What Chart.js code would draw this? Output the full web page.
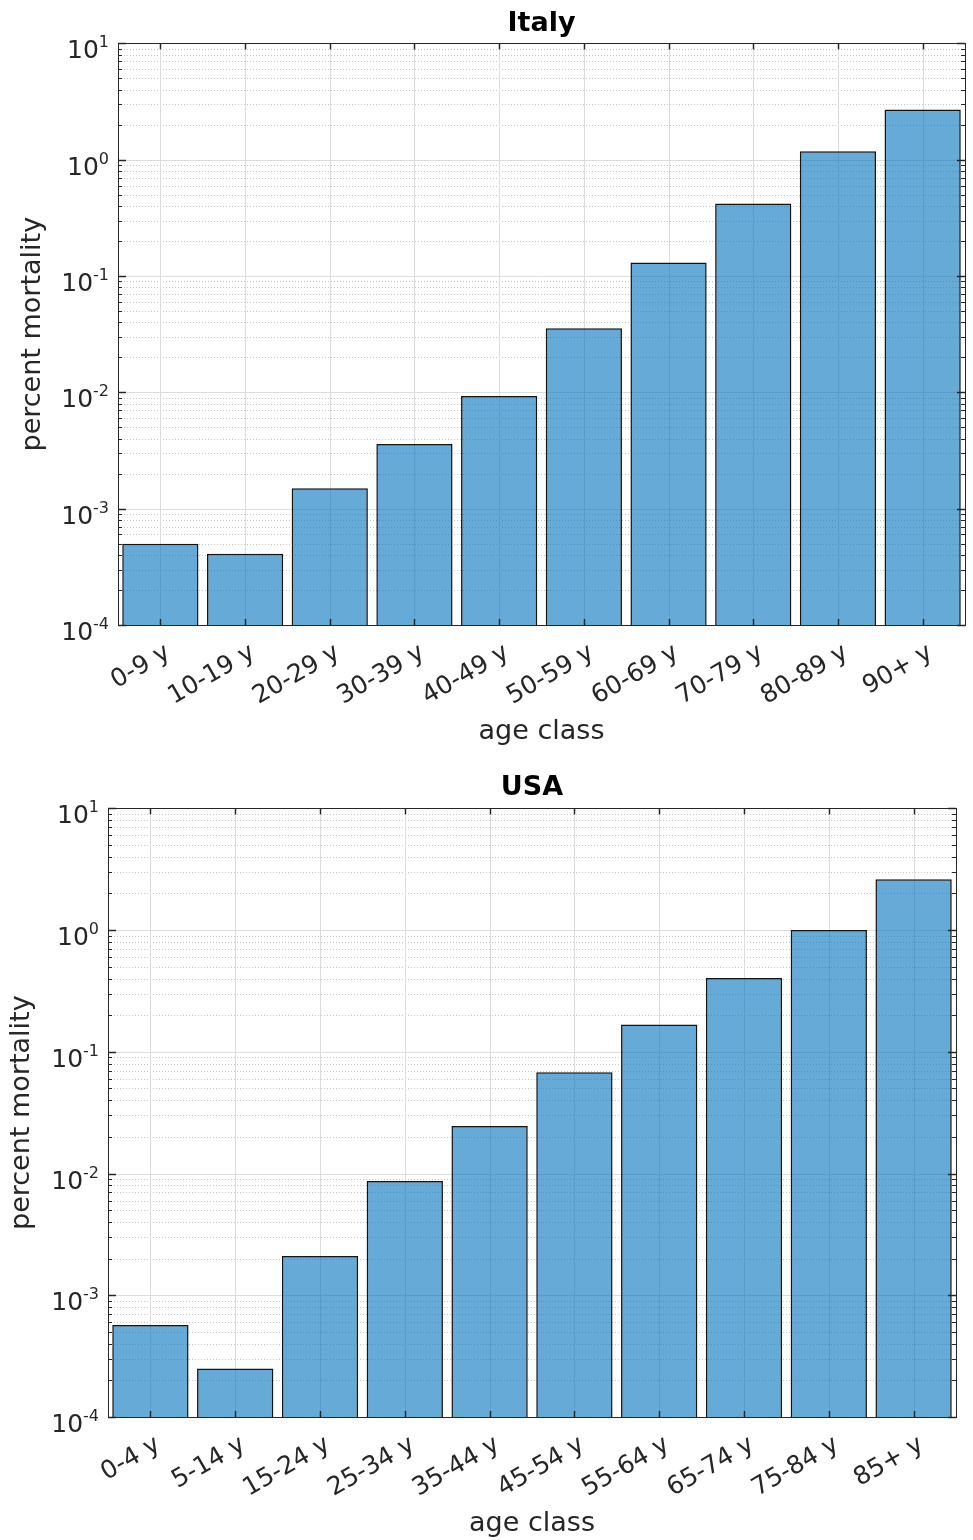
<!DOCTYPE html>
<html>
<head>
<meta charset="utf-8">
<script src="https://cdn.jsdelivr.net/npm/chart.js@4/dist/chart.umd.min.js"></script>
<style>
  body{margin:0;background:#fff;width:973px;height:1540px;overflow:hidden}
  canvas{position:absolute;left:0;display:block}
</style>
</head>
<body>
<canvas id="italyChart" width="973" height="760" style="top:0"></canvas>
<canvas id="usaChart" width="973" height="780" style="top:760px"></canvas>
<script>
const italyLabels = ['0-9 y','10-19 y','20-29 y','30-39 y','40-49 y','50-59 y','60-69 y','70-79 y','80-89 y','90+ y']
const italyValues = [0.00050, 0.00041, 0.0015, 0.0036, 0.0093, 0.0355, 0.131, 0.42, 1.18, 2.70]

const usaLabels = ['0-4 y','5-14 y','15-24 y','25-34 y','35-44 y','45-54 y','55-64 y','65-74 y','75-84 y','85+ y']
const usaValues = [0.00057, 0.00025, 0.0021, 0.0087, 0.0246, 0.068, 0.168, 0.405, 1.0, 2.62]

const decadeTicks = [1e-4, 1e-3, 1e-2, 1e-1, 1, 10]

const textColor = '#262626'
const fontFamily = '"DejaVu Sans", sans-serif'

// matlab-ish grid, box, inward ticks and 10^n labels
const matlabAxes = {
    id: 'matlabAxes',
    beforeDatasetsDraw(chart){
        const {ctx, chartArea: a, scales: {x, y}} = chart
        ctx.save()
        ctx.lineWidth = 1
        ctx.strokeStyle = '#c4c4c4'
        ctx.setLineDash([1, 2])
        for(let e = -4; e < 1; e++){
            for(let m = 2; m < 10; m++){
                const py = Math.round(y.getPixelForValue(m * Math.pow(10, e))) + 0.5
                ctx.beginPath(); ctx.moveTo(a.left, py); ctx.lineTo(a.right, py); ctx.stroke()
            }
        }
        ctx.setLineDash([])
        ctx.strokeStyle = '#dcdcdc'
        decadeTicks.forEach(v => {
            const py = Math.round(y.getPixelForValue(v)) + 0.5
            ctx.beginPath(); ctx.moveTo(a.left, py); ctx.lineTo(a.right, py); ctx.stroke()
        })
        chart.data.labels.forEach((l, i) => {
            const px = Math.round(x.getPixelForValue(i)) + 0.5
            ctx.beginPath(); ctx.moveTo(px, a.top); ctx.lineTo(px, a.bottom); ctx.stroke()
        })
        ctx.restore()
    },
    afterDatasetsDraw(chart){
        const {ctx, chartArea: a, scales: {x, y}} = chart
        ctx.save()
        ctx.strokeStyle = textColor
        ctx.lineWidth = 1
        const line = (x1, y1, x2, y2) => { ctx.beginPath(); ctx.moveTo(x1, y1); ctx.lineTo(x2, y2); ctx.stroke() }
        for(let e = -4; e < 1; e++){
            for(let m = 2; m < 10; m++){
                const py = Math.round(y.getPixelForValue(m * Math.pow(10, e))) + 0.5
                line(a.left, py, a.left + 4, py)
                line(a.right, py, a.right - 4, py)
            }
        }
        ctx.lineWidth = 1.5
        decadeTicks.forEach(v => {
            const py = Math.round(y.getPixelForValue(v)) + 0.5
            line(a.left, py, a.left + 8, py)
            line(a.right, py, a.right - 8, py)
        })
        chart.data.labels.forEach((l, i) => {
            const px = Math.round(x.getPixelForValue(i)) + 0.5
            line(px, a.top, px, a.top + 6)
            line(px, a.bottom, px, a.bottom - 6)
        })
        ctx.lineWidth = 1
        ctx.strokeRect(Math.round(a.left) + 0.5, Math.round(a.top) + 0.5,
            Math.round(a.right - a.left), Math.round(a.bottom - a.top))

        // y tick labels as 10 with raised exponent
        ctx.fillStyle = textColor
        ctx.textBaseline = 'alphabetic'
        ctx.textAlign = 'left'
        decadeTicks.forEach(v => {
            const py = y.getPixelForValue(v)
            const exp = String(Math.round(Math.log10(v)))
            ctx.font = '16px ' + fontFamily
            const expW = ctx.measureText(exp).width
            ctx.font = '25px ' + fontFamily
            const baseW = ctx.measureText('10').width
            const right = a.left - 9
            ctx.fillText('10', right - expW - baseW, py + 15)
            ctx.font = '16px ' + fontFamily
            ctx.fillText(exp, right - expW, py + 4)
        })
        ctx.restore()
    }
}

function makeChart(id, title, labels, values, box){
    const ctx = document.getElementById(id).getContext('2d')
    return new Chart(ctx, {
        type: 'bar',
        data: {
            labels: labels,
            datasets: [{
                data: values,
                backgroundColor: 'rgba(0,114,189,0.6)',
                borderColor: '#141414',
                borderWidth: 1.5,
                barPercentage: 0.9,
                categoryPercentage: 1
            }]
        },
        options: {
            responsive: false,
            animation: false,
            devicePixelRatio: 1,
            layout: {padding: {left: 0, right: box.right, top: 0, bottom: 0}},
            plugins: {
                legend: {display: false},
                tooltip: {enabled: false},
                title: {
                    display: true,
                    text: title,
                    fullSize: false,
                    color: '#000',
                    font: {family: fontFamily, size: 27, weight: 'bold'},
                    padding: {top: box.titleTop, bottom: box.titleBottom}
                }
            },
            scales: {
                x: {
                    grid: {display: false},
                    border: {display: false},
                    ticks: {
                        color: textColor,
                        font: {family: fontFamily, size: 25},
                        minRotation: 30,
                        maxRotation: 30,
                        labelOffset: 8,
                        padding: 5
                    },
                    title: {
                        display: true,
                        text: 'age class',
                        color: textColor,
                        font: {family: fontFamily, size: 27},
                        padding: {top: 0, bottom: box.xTitlePad}
                    },
                    afterFit: s => { s.height = box.xHeight }
                },
                y: {
                    type: 'logarithmic',
                    min: 1e-4,
                    max: 10,
                    afterBuildTicks: s => { s.ticks = decadeTicks.map(v => ({value: v})) },
                    grid: {display: false},
                    border: {display: false},
                    ticks: {display: false},
                    title: {
                        display: true,
                        text: 'percent mortality',
                        color: textColor,
                        font: {family: fontFamily, size: 27},
                        padding: {top: box.yTitlePad, bottom: 0}
                    },
                    afterFit: s => { s.width = box.yWidth }
                }
            }
        },
        plugins: [matlabAxes]
    })
}

makeChart('italyChart', 'Italy', italyLabels, italyValues,
    {right: 8, titleTop: 8, titleBottom: 3, xHeight: 135, xTitlePad: 12, yWidth: 118, yTitlePad: 17})
makeChart('usaChart', 'USA', usaLabels, usaValues,
    {right: 17, titleTop: 12, titleBottom: 4, xHeight: 123, xTitlePad: 0, yWidth: 108, yTitlePad: 6})
</script>
</body>
</html>
